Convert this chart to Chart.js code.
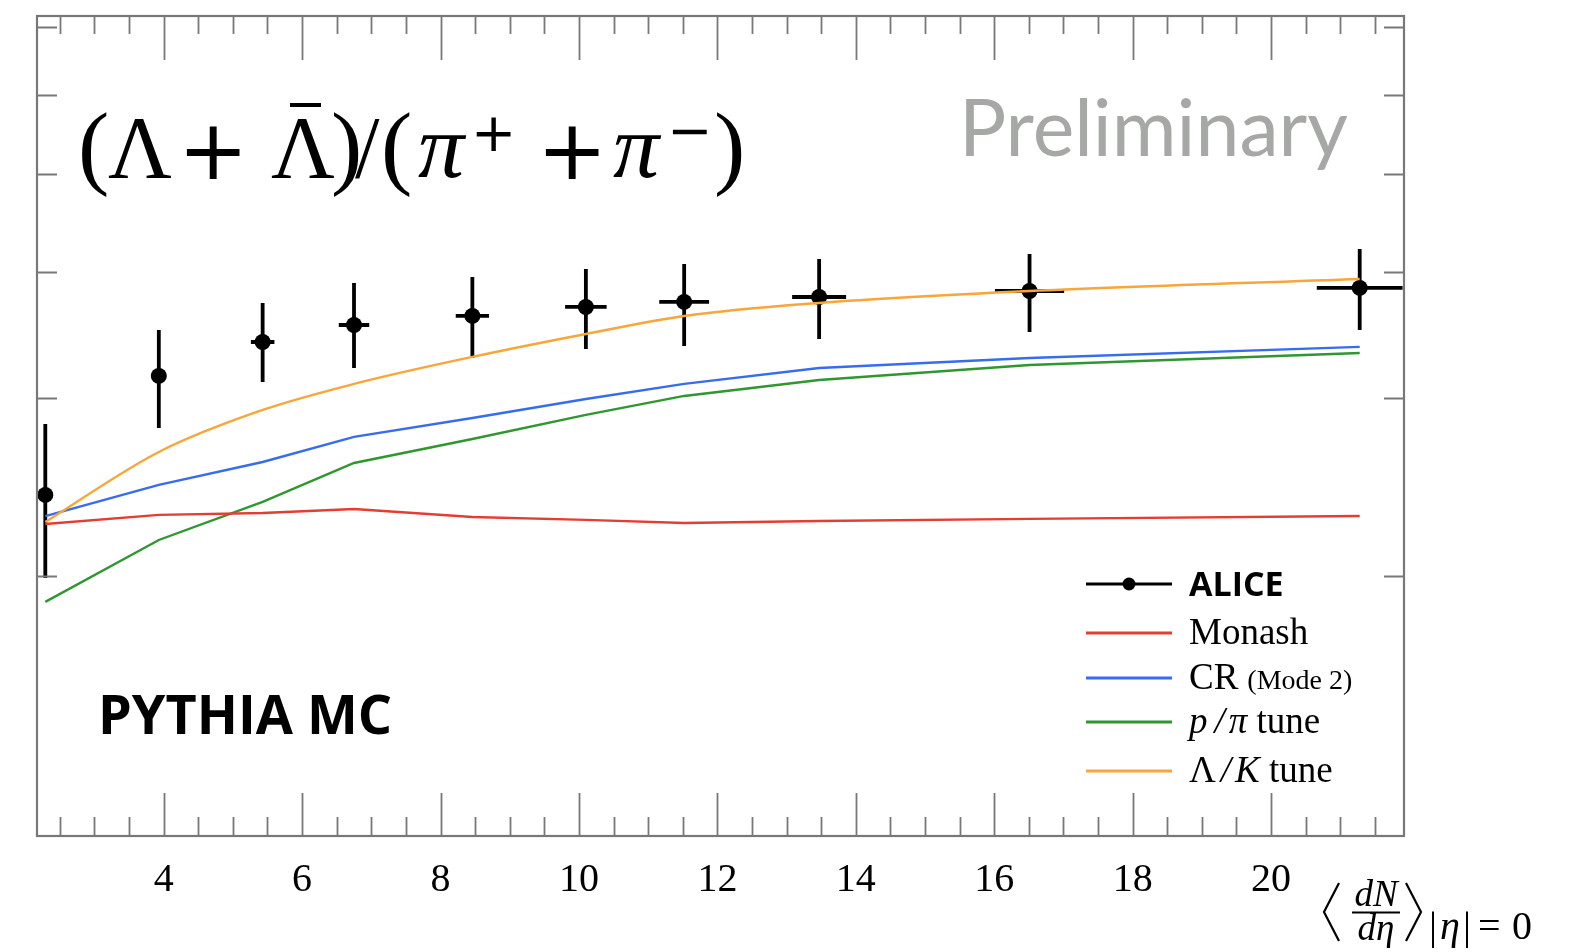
<!DOCTYPE html>
<html><head><meta charset="utf-8">
<script src="https://cdn.jsdelivr.net/npm/chart.js@4/dist/chart.umd.min.js"></script>
<style>html,body{margin:0;padding:0;background:#fff;overflow:hidden}#wrap{width:1579px;height:952px;position:relative}</style>
</head><body><div id="wrap"><canvas id="c" width="1579" height="952"></canvas></div>
<script>
// ---- data ----
const xValues      = [2.29, 3.93, 5.43, 6.75, 8.46, 10.10, 11.52, 13.47, 16.51, 21.28];
const aliceY       = [0.02406, 0.03157, 0.03411, 0.03546, 0.03620, 0.03695, 0.03738, 0.03780, 0.03832, 0.03859];
const aliceYHigh   = [0.02829, 0.03506, 0.03729, 0.03903, 0.03957, 0.04030, 0.04076, 0.04123, 0.04170, 0.04218];
const aliceYLow    = [0.01991, 0.02804, 0.03114, 0.03215, 0.03289, 0.03357, 0.03380, 0.03435, 0.03490, 0.03506];
const aliceXErr    = [0.05, 0.10, 0.17, 0.22, 0.24, 0.30, 0.36, 0.39, 0.50, 0.62];
const monash       = [0.02252, 0.02299, 0.02309, 0.02330, 0.02288, 0.02273, 0.02257, 0.02267, 0.02278, 0.02293];
const crMode2      = [0.02293, 0.02462, 0.02594, 0.02747, 0.02868, 0.02995, 0.03100, 0.03215, 0.03289, 0.03373];
const pPiTune      = [0.01885, 0.02171, 0.02368, 0.02588, 0.02734, 0.02888, 0.03016, 0.03128, 0.03237, 0.03327];
const lamKTune     = [0.02262, 0.02654, 0.02921, 0.03100, 0.03297, 0.03474, 0.03620, 0.03729, 0.03832, 0.03939];
const xTickLabels  = [4, 6, 8, 10, 12, 14, 16, 18, 20];
const yTickValues  = [0.02, 0.03, 0.04, 0.05, 0.06, 0.07];
const seriesNames  = ['ALICE', 'Monash', 'CR', 'p / π tune', 'Λ / K tune'];

const COLORS = {alice:'#000000', monash:'rgb(228,62,50)', cr:'rgb(55,108,238)', ppi:'rgb(48,150,48)', lamk:'rgb(248,166,58)'};
const AXIS = '#787878';

function pts(ys){ return xValues.map((x,i)=>({x:x, y:ys[i]})); }

// ---- plugin: frame + inward ticks ----
const framePlugin = {
  id:'frame',
  afterDraw(chart){
    const {ctx, chartArea:a, scales:{x, y}} = chart;
    ctx.save();
    ctx.strokeStyle = AXIS; ctx.lineWidth = 2.2;
    ctx.strokeRect(a.left, a.top, a.right-a.left, a.bottom-a.top);
    ctx.lineWidth = 1.8;
    ctx.beginPath();
    for (let v = 2.5; v < x.max; v += 0.5){
      const px = Math.round(x.getPixelForValue(v)) + 0.5;
      if (px <= a.left+1 || px >= a.right-1) continue;
      const major = xTickLabels.includes(v);
      const bl = major ? 43 : 19, tl = major ? 44 : 18;
      ctx.moveTo(px, a.bottom); ctx.lineTo(px, a.bottom - bl);
      ctx.moveTo(px, a.top); ctx.lineTo(px, a.top + tl);
    }
    yTickValues.forEach(v=>{
      const py = Math.round(y.getPixelForValue(v)) + 0.5;
      ctx.moveTo(a.left, py); ctx.lineTo(a.left + 20, py);
      ctx.moveTo(a.right, py); ctx.lineTo(a.right - 20, py);
    });
    ctx.stroke();
    ctx.restore();
  }
};

// ---- plugin: error bars of the ALICE points ----
const errorBarPlugin = {
  id:'errbars',
  beforeDatasetsDraw(chart){
    const {ctx, chartArea:a, scales:{x, y}} = chart;
    ctx.save();
    ctx.beginPath(); ctx.rect(a.left, a.top, a.right-a.left, a.bottom-a.top); ctx.clip();
    ctx.strokeStyle = '#000'; ctx.lineWidth = 3.8; ctx.lineCap = 'butt';
    ctx.beginPath();
    xValues.forEach((xv,i)=>{
      const px = x.getPixelForValue(xv), py = y.getPixelForValue(aliceY[i]);
      ctx.moveTo(px, y.getPixelForValue(aliceYHigh[i])); ctx.lineTo(px, y.getPixelForValue(aliceYLow[i]));
      ctx.moveTo(x.getPixelForValue(xv - aliceXErr[i]), py); ctx.lineTo(x.getPixelForValue(xv + aliceXErr[i]), py);
    });
    ctx.stroke();
    ctx.restore();
  }
};

// ---- plugin: texts (formula, labels, legend, axis title) ----
function put(ctx, t, x, y, font, color){ ctx.font = font; ctx.fillStyle = color || '#000'; ctx.fillText(t, x, y); return ctx.measureText(t).width; }
function fitText(ctx, t, x, y, weight, family, targetW, color){
  ctx.font = weight + ' 100px ' + family;
  const size = 100 * targetW / ctx.measureText(t).width;
  ctx.font = weight + ' ' + size.toFixed(1) + 'px ' + family;
  ctx.fillStyle = color; ctx.fillText(t, x, y);
}
const SERIF = '"Liberation Serif", "DejaVu Serif", serif';
const SANS = '"DejaVu Sans", sans-serif';
const textPlugin = {
  id:'texts',
  afterDraw(chart){
    const ctx = chart.ctx;
    ctx.save();
    ctx.textBaseline = 'alphabetic'; ctx.textAlign = 'left';
    // formula (Λ + Λ̄)/(π+ + π−)
    const F = '88px ' + SERIF, FP = '94px ' + SERIF, FI = 'italic 92px ' + SERIF;
    const PL = '84px ' + SANS, SUP = '54px ' + SANS;
    const by = 177;
    put(ctx, '(', 78, by, FP);
    put(ctx, 'Λ', 108, by, F);
    put(ctx, '+', 178, by + 2, PL);
    put(ctx, 'Λ', 271, by, F);
    ctx.fillRect(290, 103, 31, 4);
    put(ctx, ')', 331, by, FP);
    put(ctx, '/', 355, by, F);
    put(ctx, '(', 381, by, FP);
    put(ctx, 'π', 418, by, FI);
    put(ctx, '+', 471, 151, SUP);
    put(ctx, '+', 537, by + 2, PL);
    put(ctx, 'π', 613, by, FI);
    put(ctx, '−', 667, 149, SUP);
    put(ctx, ')', 714, by, FP);

    // Preliminary
    fitText(ctx, 'Preliminary', 959, 156, '400', 'Lato, "Open Sans", sans-serif', 389, '#a6a8a6');
    // PYTHIA MC
    fitText(ctx, 'PYTHIA MC', 98, 734, '700', '"Open Sans", Lato, sans-serif', 294, '#000');

    // legend
    const lx0 = 1086, lx1 = 1172, tx = 1189;
    const rows = [
      {y:584, c:COLORS.alice}, {y:633, c:COLORS.monash}, {y:678, c:COLORS.cr}, {y:722, c:COLORS.ppi}, {y:771, c:COLORS.lamk}
    ];
    rows.forEach((r)=>{
      ctx.strokeStyle = r.c; ctx.lineWidth = 3;
      ctx.beginPath(); ctx.moveTo(lx0, r.y); ctx.lineTo(lx1, r.y); ctx.stroke();
    });
    ctx.beginPath(); ctx.fillStyle = '#000'; ctx.arc((lx0+lx1)/2, rows[0].y, 6.5, 0, Math.PI*2); ctx.fill();
    const LF = '37px ' + SERIF, LI = 'italic 37px ' + SERIF;
    put(ctx, seriesNames[0], tx, 596, '700 34px "Open Sans", Lato, sans-serif');
    put(ctx, seriesNames[1], tx, 644, LF);
    let w = put(ctx, seriesNames[2], tx, 689, LF);
    put(ctx, '(Mode 2)', tx + w + 9, 689, '28px ' + SERIF);
    // p / π tune
    let cx = tx;
    cx += put(ctx, 'p', cx, 733, LI) + 7;
    cx += put(ctx, '/', cx, 733, LI) + 4;
    cx += put(ctx, 'π', cx, 733, LI);
    put(ctx, ' tune', cx, 733, LF);
    cx = tx;
    cx += put(ctx, 'Λ', cx, 782, LF) + 5;
    cx += put(ctx, '/', cx, 782, LI) + 4;
    cx += put(ctx, 'K', cx, 782, LI);
    put(ctx, ' tune', cx, 782, LF);

    // x-axis title  < dN/dη >_{|η|=0}
    ctx.strokeStyle = '#000'; ctx.lineWidth = 2.2;
    ctx.beginPath();
    ctx.moveTo(1339, 883); ctx.lineTo(1324, 912); ctx.lineTo(1339, 941);
    ctx.moveTo(1406, 883); ctx.lineTo(1421, 912); ctx.lineTo(1406, 941);
    ctx.stroke();
    ctx.lineWidth = 2;
    ctx.beginPath(); ctx.moveTo(1352, 912.5); ctx.lineTo(1400, 912.5); ctx.stroke();
    ctx.textAlign = 'center';
    put(ctx, 'dN', 1376, 906, 'italic 37px ' + SERIF);
    put(ctx, 'dη', 1376, 940, 'italic 37px ' + SERIF);
    ctx.textAlign = 'left';
    const SF = '40px ' + SERIF, SI = 'italic 40px ' + SERIF;
    put(ctx, '|', 1429, 939, SF);
    put(ctx, 'η', 1440, 939, SI);
    put(ctx, '|', 1463, 939, SF);
    put(ctx, '=', 1478, 939, SF);
    put(ctx, '0', 1512, 939, SF);
    ctx.restore();
  }
};

const ctx = document.getElementById('c').getContext('2d');
new Chart(ctx, {
  type:'line',
  data:{
    datasets:[
      {label:seriesNames[1], data:pts(monash),  borderColor:COLORS.monash, borderWidth:2.4, pointRadius:0, tension:0, fill:false, order:1},
      {label:seriesNames[2], data:pts(crMode2), borderColor:COLORS.cr,     borderWidth:2.4, pointRadius:0, tension:0, fill:false, order:2},
      {label:seriesNames[3], data:pts(pPiTune), borderColor:COLORS.ppi,    borderWidth:2.4, pointRadius:0, tension:0, fill:false, order:3},
      {label:seriesNames[4], data:pts(lamKTune),borderColor:COLORS.lamk,   borderWidth:2.4, pointRadius:0, cubicInterpolationMode:'monotone', fill:false, order:0},
      {label:seriesNames[0], data:pts(aliceY),  showLine:false, pointRadius:8, pointBackgroundColor:'#000', pointBorderColor:'#000', pointBorderWidth:0, order:5}
    ]
  },
  options:{
    responsive:false, animation:false, devicePixelRatio:1,
    layout:{padding:{left:37, right:175, top:16, bottom:0}},
    plugins:{legend:{display:false}, tooltip:{enabled:false}},
    scales:{
      x:{type:'linear', min:2.17, max:21.92,
         grid:{display:false}, border:{display:false},
         ticks:{stepSize:2, includeBounds:false, autoSkip:false, maxRotation:0, padding:12, color:'#000',
                font:{family:'"Liberation Serif", "DejaVu Serif", serif', size:40},
                callback:(v)=> xTickLabels.includes(v) ? String(v) : ''},
         afterFit:(s)=>{ s.height = 116; }},
      y:{type:'logarithmic', display:false, min:0.011048, max:0.07178}
    }
  },
  plugins:[errorBarPlugin, framePlugin, textPlugin]
});
</script></body></html>
